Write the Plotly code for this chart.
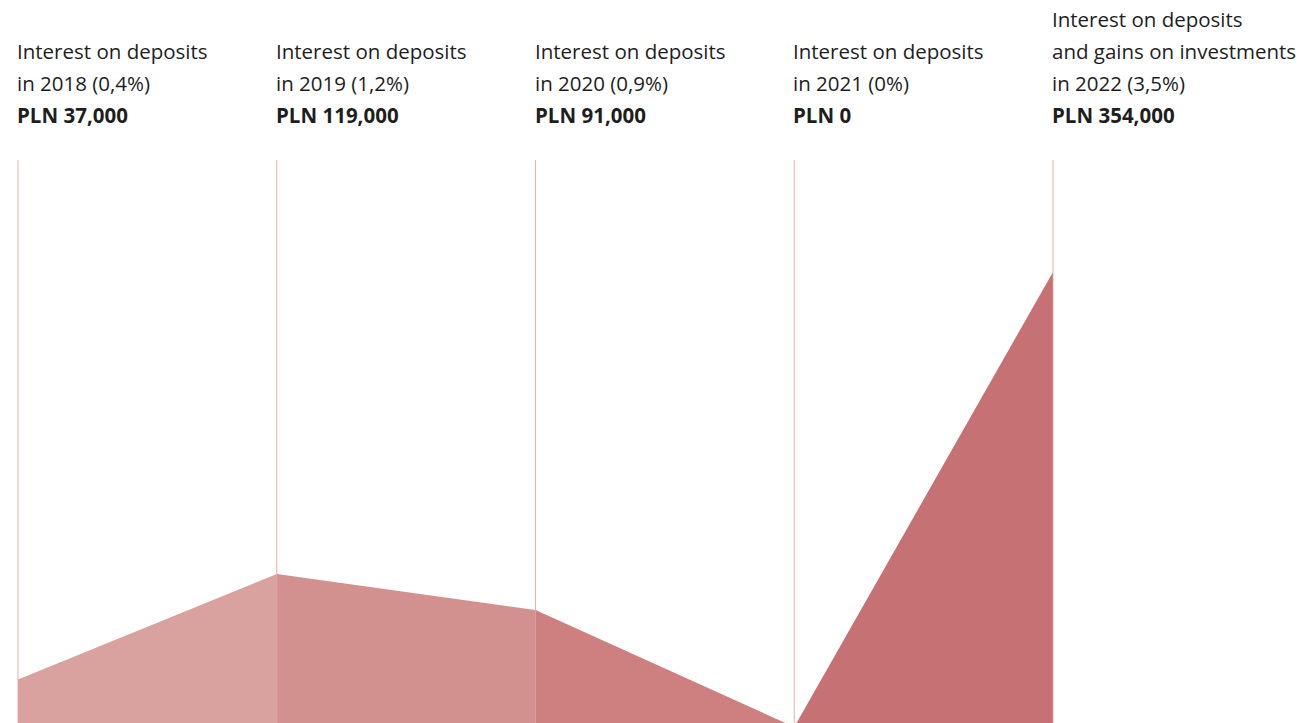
import plotly.graph_objects as go

# ---- data ----
years = ["2018", "2019", "2020", "2021", "2022"]
values = [37000, 119000, 91000, 0, 354000]
label_lines = [
    ["Interest on deposits", "in 2018 (0,4%)"],
    ["Interest on deposits", "in 2019 (1,2%)"],
    ["Interest on deposits", "in 2020 (0,9%)"],
    ["Interest on deposits", "in 2021 (0%)"],
    ["Interest on deposits", "and gains on investments", "in 2022 (3,5%)"],
]
amount_labels = ["PLN 37,000", "PLN 119,000", "PLN 91,000", "PLN 0", "PLN 354,000"]
segment_colors = ["#d9a29f", "#d2918f", "#cd807f", "#c67274"]

W, H = 1300, 723
LINE_TOP_VALUE = 441000
Y_RANGE = [3112, 565622]
X_RANGE = [-0.0696, 4.9546]

fig = go.Figure()
xs = list(range(len(years)))
for i in range(len(years) - 1):
    fig.add_trace(go.Scatter(
        x=[xs[i], xs[i], xs[i + 1], xs[i + 1], xs[i]],
        y=[0, values[i], values[i + 1], 0, 0],
        mode="lines", fill="toself",
        fillcolor=segment_colors[i],
        line=dict(width=0, color=segment_colors[i]),
        hoverinfo="skip", showlegend=False,
    ))

for i in xs:
    fig.add_shape(type="line", x0=i, x1=i, y0=0, y1=LINE_TOP_VALUE,
                  xref="x", yref="y", layer="above",
                  line=dict(color="rgba(226,155,155,0.8)", width=1))

FONT = "'Open Sans', sans-serif"
row_centers = [52, 84, 115]  # pixel centers of rows
row_step = 32
for i in xs:
    lines = label_lines[i] + [amount_labels[i]]
    n = len(lines)
    for j, txt in enumerate(lines):
        ypix = row_centers[2] - (n - 1 - j) * row_step
        bold = (j == n - 1)
        fig.add_annotation(
            x=i, xref="x", y=1 - ypix / H, yref="paper",
            text=f"<b>{txt}</b>" if bold else txt,
            showarrow=False, xanchor="left", yanchor="middle",
            xshift=-2, borderpad=0,
            font=dict(family=FONT, size=20.5, color="#1e1e1e"),
        )

fig.update_layout(
    width=W, height=H,
    margin=dict(l=0, r=0, t=0, b=0),
    paper_bgcolor="white", plot_bgcolor="white",
    xaxis=dict(range=X_RANGE, visible=False, fixedrange=True),
    yaxis=dict(range=Y_RANGE, visible=False, fixedrange=True),
    showlegend=False,
)
fig.write_html("out.html", config={"displayModeBar": False},
               post_script="document.body.style.margin='0';")
